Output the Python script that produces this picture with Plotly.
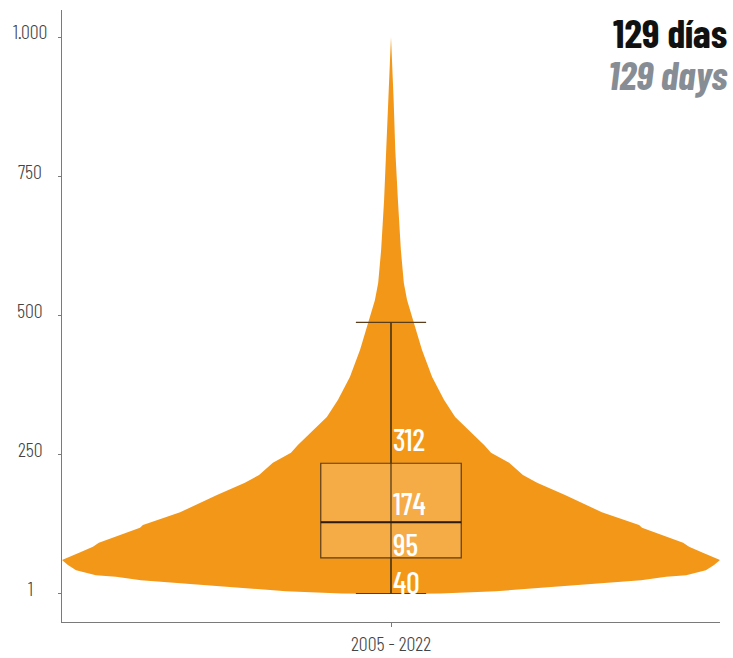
import plotly.graph_objects as go

# violin outline: value (days) and half-width relative to the widest point
violin_days = [0, 1, 5, 11, 18, 25, 31, 34, 43, 52, 61, 74, 85, 92, 119, 124, 147, 178,
               200, 214, 236, 254, 268, 289, 318, 349, 390, 439, 487, 528, 559, 618,
               708, 798, 888, 960, 1001]
violin_width = [0.0, 0.15, 0.319, 0.441, 0.608, 0.76, 0.836, 0.897, 0.957, 0.982, 1.0,
                0.948, 0.906, 0.888, 0.763, 0.754, 0.641, 0.529, 0.444, 0.401, 0.359,
                0.304, 0.283, 0.246, 0.195, 0.161, 0.125, 0.094, 0.07, 0.049, 0.039,
                0.03, 0.021, 0.013, 0.008, 0.003, 0.0]

# box summary
box_min = 1
box_q1 = 65
box_median = 129
box_q3 = 235
box_max = 488

period = "2005 - 2022"
y_ticks = [1, 250, 500, 750, 1000]
value_labels = ["312", "174", "95", "40"]
value_label_y = [278, 163, 90, 22]

title_es = "129 días"
title_en = "129 days"

ORANGE = "#F39719"
FONT = "Barlow Condensed"
AXIS = "#7a7a7a"
X_RANGE = [-1, 1]
Y_RANGE = [-50.2, 1049.4]
BOX_WIDTH = 0.427

outline_x = violin_width + [-w for w in reversed(violin_width)]
outline_y = violin_days + list(reversed(violin_days))

fig = go.Figure()
fig.add_trace(
    go.Scatter(
        x=outline_x,
        y=outline_y,
        mode="lines",
        fill="toself",
        fillcolor=ORANGE,
        line={"width": 0, "color": ORANGE},
        hoverinfo="skip",
        showlegend=False,
    )
)
# box sits on an overlay so it is drawn above the violin fill
fig.add_trace(
    go.Box(
        x=[0],
        q1=[box_q1],
        median=[box_median],
        q3=[box_q3],
        lowerfence=[box_min],
        upperfence=[box_max],
        orientation="v",
        width=BOX_WIDTH,
        whiskerwidth=0.5,
        fillcolor="rgba(248,192,115,0.5)",
        line={"color": "#5a3d1c", "width": 1.2},
        hoverinfo="skip",
        showlegend=False,
        xaxis="x2",
        yaxis="y2",
    )
)
# whisker line running through the box, and a heavier median
fig.add_trace(
    go.Scatter(
        x=[0, 0],
        y=[box_min, box_max],
        mode="lines",
        line={"color": "#4a3414", "width": 1.2},
        hoverinfo="skip",
        showlegend=False,
        xaxis="x2",
        yaxis="y2",
    )
)
fig.add_trace(
    go.Scatter(
        x=[-BOX_WIDTH / 2, BOX_WIDTH / 2],
        y=[box_median, box_median],
        mode="lines",
        line={"color": "#2e1c08", "width": 2},
        hoverinfo="skip",
        showlegend=False,
        xaxis="x2",
        yaxis="y2",
    )
)

for text, yv in zip(value_labels, value_label_y):
    fig.add_annotation(
        x=0, y=yv, xref="x", yref="y", text=text, showarrow=False,
        xanchor="left", yanchor="middle",
        font={"family": FONT, "size": 30, "color": "#ffffff", "weight": 500},
    )

for v in y_ticks:
    fig.add_annotation(
        x=0, y=v, xref="paper", yref="y", text=f"{v:,}".replace(",", "."),
        showarrow=False, xanchor="center", yanchor="middle", xshift=-32, yshift=6,
        font={"family": FONT, "size": 20, "color": "#444444", "weight": 300},
    )

fig.add_annotation(
    x=1, y=0.964, xref="paper", yref="paper", text=title_es, showarrow=False,
    xanchor="right", yanchor="middle", xshift=9,
    font={"family": FONT, "size": 40, "color": "#111111", "weight": 700},
)
fig.add_annotation(
    x=1, y=0.895, xref="paper", yref="paper", text=title_en, showarrow=False,
    xanchor="right", yanchor="middle", xshift=9,
    font={"family": FONT, "size": 40, "color": "#878d95", "weight": 700, "style": "italic"},
)

fig.update_layout(
    width=733,
    height=658,
    margin={"l": 62, "r": 13, "t": 10, "b": 36},
    paper_bgcolor="#ffffff",
    plot_bgcolor="#ffffff",
    showlegend=False,
    font={"family": FONT, "size": 20, "color": "#444444"},
    xaxis={
        "range": X_RANGE,
        "tickvals": [0],
        "ticktext": [period],
        "ticks": "outside",
        "ticklen": 4,
        "tickcolor": AXIS,
        "showline": True,
        "linecolor": AXIS,
        "linewidth": 1.4,
        "showgrid": False,
        "zeroline": False,
        "automargin": False,
        "tickfont": {"family": FONT, "size": 20, "color": "#444444", "weight": 300},
    },
    yaxis={
        "range": Y_RANGE,
        "tickvals": y_ticks,
        "showticklabels": False,
        "ticks": "outside",
        "ticklen": 3,
        "tickcolor": AXIS,
        "showline": True,
        "linecolor": AXIS,
        "linewidth": 1.4,
        "showgrid": False,
        "zeroline": False,
        "automargin": False,
    },
    xaxis2={"overlaying": "x", "range": X_RANGE, "visible": False},
    yaxis2={"overlaying": "y", "range": Y_RANGE, "visible": False},
)

# the page body has a default margin; drop it so the figure fills the window
fig.write_html(
    "out.html",
    config={"displayModeBar": False},
    post_script="document.body.style.margin = '0';",
)
